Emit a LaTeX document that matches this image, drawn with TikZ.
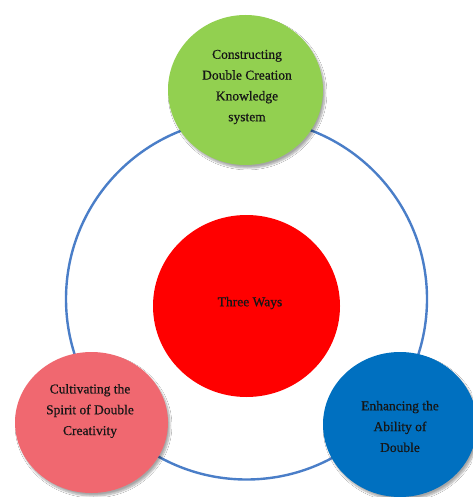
\documentclass[tikz,border=0pt]{standalone}
\usepackage{fontspec}
\setmainfont{Liberation Serif}
\newfontfamily\heavyserif[FakeBold=0.6]{Liberation Serif}
\usetikzlibrary{shapes.geometric,shadows.blur}
\definecolor{ringblue}{RGB}{74,126,200}
\definecolor{leafgreen}{RGB}{146,208,80}
\definecolor{corered}{RGB}{255,0,0}
\definecolor{rosepink}{RGB}{240,104,112}
\definecolor{deepblue}{RGB}{0,112,192}
\definecolor{inktext}{RGB}{22,22,22}
\tikzset{
  bubble/.style={ellipse, inner sep=0pt, draw=none,
    blur shadow={shadow xshift=2pt, shadow yshift=-3pt, shadow blur steps=8, shadow opacity=35}},
  caption/.style={align=center, text=inktext, font=\heavyserif\fontsize{13.5}{20.8}\selectfont, inner sep=0pt}
}
\begin{document}
\begin{tikzpicture}[x=1pt,y=-1pt]
\useasboundingbox (0,0) rectangle (472,497);
\fill[white] (0,0) rectangle (472,497);
% big ring
\node[circle, draw=ringblue, line width=2.4pt, minimum size=361pt, inner sep=0pt] (ring) at (246.5,299) {};
% satellites
\node[bubble, fill=leafgreen, minimum width=155pt, minimum height=150pt] (top) at (245.5,90) {};
\node[bubble, fill=rosepink, minimum width=153pt, minimum height=141pt] (left) at (91.5,422.5) {};
\node[bubble, fill=deepblue, minimum width=154pt, minimum height=145pt] (right) at (400,424.5) {};
% centre
\node[ellipse, fill=corered, minimum width=187pt, minimum height=182pt, inner sep=0pt] (core) at (246.5,306) {};
% texts
\node[caption] (toptext) at (247,87) {Constructing\\Double Creation\\Knowledge\\system};
\node[caption] (lefttext) at (90,411) {Cultivating the\\Spirit of Double\\Creativity};
\node[caption] (righttext) at (400,426.5) {Enhancing the\\Ability of\\Double};
\node[caption] (coretext) at (250,303) {Three Ways};
\end{tikzpicture}
\end{document}
